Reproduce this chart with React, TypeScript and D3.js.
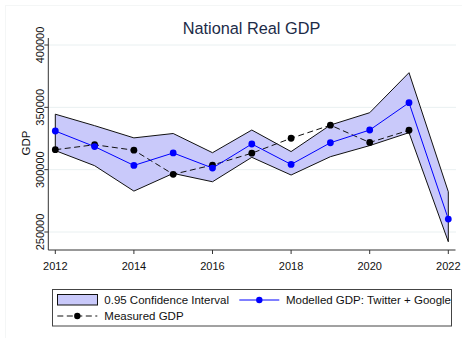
import React from "react";
import * as d3 from "d3";

// Annual series, 2012–2022
const years = [2012, 2013, 2014, 2015, 2016, 2017, 2018, 2019, 2020, 2021, 2022];
const ciUpper = [344500, 335300, 325500, 329000, 313600, 331800, 314500, 335800, 345700, 377800, 282300];
const ciLower = [315300, 303200, 282800, 297000, 290300, 309900, 295700, 310400, 319300, 329700, 242200];
const modelled = [331000, 318500, 303400, 313400, 301300, 320600, 304200, 321600, 331800, 353700, 260400];
const measuredYears = [2012, 2013, 2014, 2015, 2016, 2017, 2018, 2019, 2020, 2021];
const measured = [316000, 320000, 315600, 296300, 303700, 313200, 325200, 335700, 321800, 331600];

const xTicks = [2012, 2014, 2016, 2018, 2020, 2022];
const yTicks = [250000, 300000, 350000, 400000];

const FONT = "'Liberation Sans', Arial, sans-serif";
const BAND = "#c9c9fa";
const BLUE = "#0000ff";

export default function App() {
  const W = 462;
  const H = 338;
  const axisX = 48.3;
  const axisY = 250;

  const x = d3.scaleLinear().domain([2012, 2022]).range([55.3, 448.3]);
  const y = d3.scaleLinear().domain([250000, 400000]).range([232, 45]);

  const bandPath = d3
    .area<number>()
    .x((_, i) => x(years[i]))
    .y0((_, i) => y(ciLower[i]))
    .y1((d) => y(d))(ciUpper) as string;

  const line = d3
    .line<[number, number]>()
    .x((d) => x(d[0]))
    .y((d) => y(d[1]));

  const modelledPts: [number, number][] = years.map((yr, i) => [yr, modelled[i]]);
  const measuredPts: [number, number][] = measuredYears.map((yr, i) => [yr, measured[i]]);

  return (
    <svg
      width={W}
      height={H}
      style={{ position: "absolute", left: 0, top: 0, background: "#fff" }}
      fontFamily={FONT}
    >
      {/* faint outer frame */}
      <rect x={5.5} y={5.5} width={W} height={H} fill="none" stroke="#f4f6f6" />

      {/* title */}
      <text x={251.5} y={33.5} textAnchor="middle" fontSize={16.3} fill="#1c2b48">
        National Real GDP
      </text>

      {/* gridlines */}
      {yTicks.map((t) => (
        <line key={t} x1={axisX} x2={456} y1={y(t)} y2={y(t)} stroke="#e9f0f1" strokeWidth={1} />
      ))}

      {/* confidence band */}
      <path d={bandPath + "Z"} fill={BAND} stroke="#111" strokeWidth={1} strokeLinejoin="miter" />

      {/* measured GDP */}
      <path d={line(measuredPts) as string} fill="none" stroke="#111" strokeWidth={1} strokeDasharray="6,3.5" />
      {measuredPts.map((p) => (
        <circle key={"m" + p[0]} cx={x(p[0])} cy={y(p[1])} r={3.4} fill="#000" />
      ))}

      {/* modelled GDP */}
      <path d={line(modelledPts) as string} fill="none" stroke={BLUE} strokeWidth={1} />
      {modelledPts.map((p) => (
        <circle key={"b" + p[0]} cx={x(p[0])} cy={y(p[1])} r={3.4} fill={BLUE} />
      ))}

      {/* y axis */}
      <line x1={axisX} x2={axisX} y1={38} y2={axisY} stroke="#333" />
      {yTicks.map((t) => (
        <g key={"yt" + t}>
          <line x1={axisX - 4} x2={axisX} y1={y(t)} y2={y(t)} stroke="#333" />
          <text
            transform={`translate(43.5,${y(t)}) rotate(-90)`}
            textAnchor="middle"
            fontSize={11}
            fill="#111"
          >
            {t}
          </text>
        </g>
      ))}
      <text transform={`translate(30,143) rotate(-90)`} textAnchor="middle" fontSize={11.5} fill="#111">
        GDP
      </text>

      {/* x axis */}
      <line x1={axisX} x2={455.5} y1={axisY} y2={axisY} stroke="#333" />
      {xTicks.map((t) => (
        <g key={"xt" + t}>
          <line x1={x(t)} x2={x(t)} y1={axisY} y2={axisY + 4} stroke="#333" />
          <text x={x(t)} y={269.5} textAnchor="middle" fontSize={11} fill="#111">
            {t}
          </text>
        </g>
      ))}

      {/* legend */}
      <rect x={52.5} y={289.5} width={399} height={36.5} fill="#fff" stroke="#444" />
      <rect x={57.5} y={294.5} width={40} height={10.5} fill={BAND} stroke="#111" />
      <text x={104.3} y={304} fontSize={11.5} fill="#111">
        0.95 Confidence Interval
      </text>
      <line x1={239.3} x2={279.3} y1={300} y2={300} stroke={BLUE} />
      <circle cx={259.3} cy={300} r={3.2} fill={BLUE} />
      <text x={286} y={304} fontSize={11.5} fill="#111">
        Modelled GDP: Twitter + Google
      </text>
      <line x1={57.3} x2={97.3} y1={316} y2={316} stroke="#111" strokeDasharray="6,3.5" />
      <circle cx={77.3} cy={316} r={3.2} fill="#000" />
      <text x={104.3} y={320} fontSize={11.5} fill="#111">
        Measured GDP
      </text>
    </svg>
  );
}
